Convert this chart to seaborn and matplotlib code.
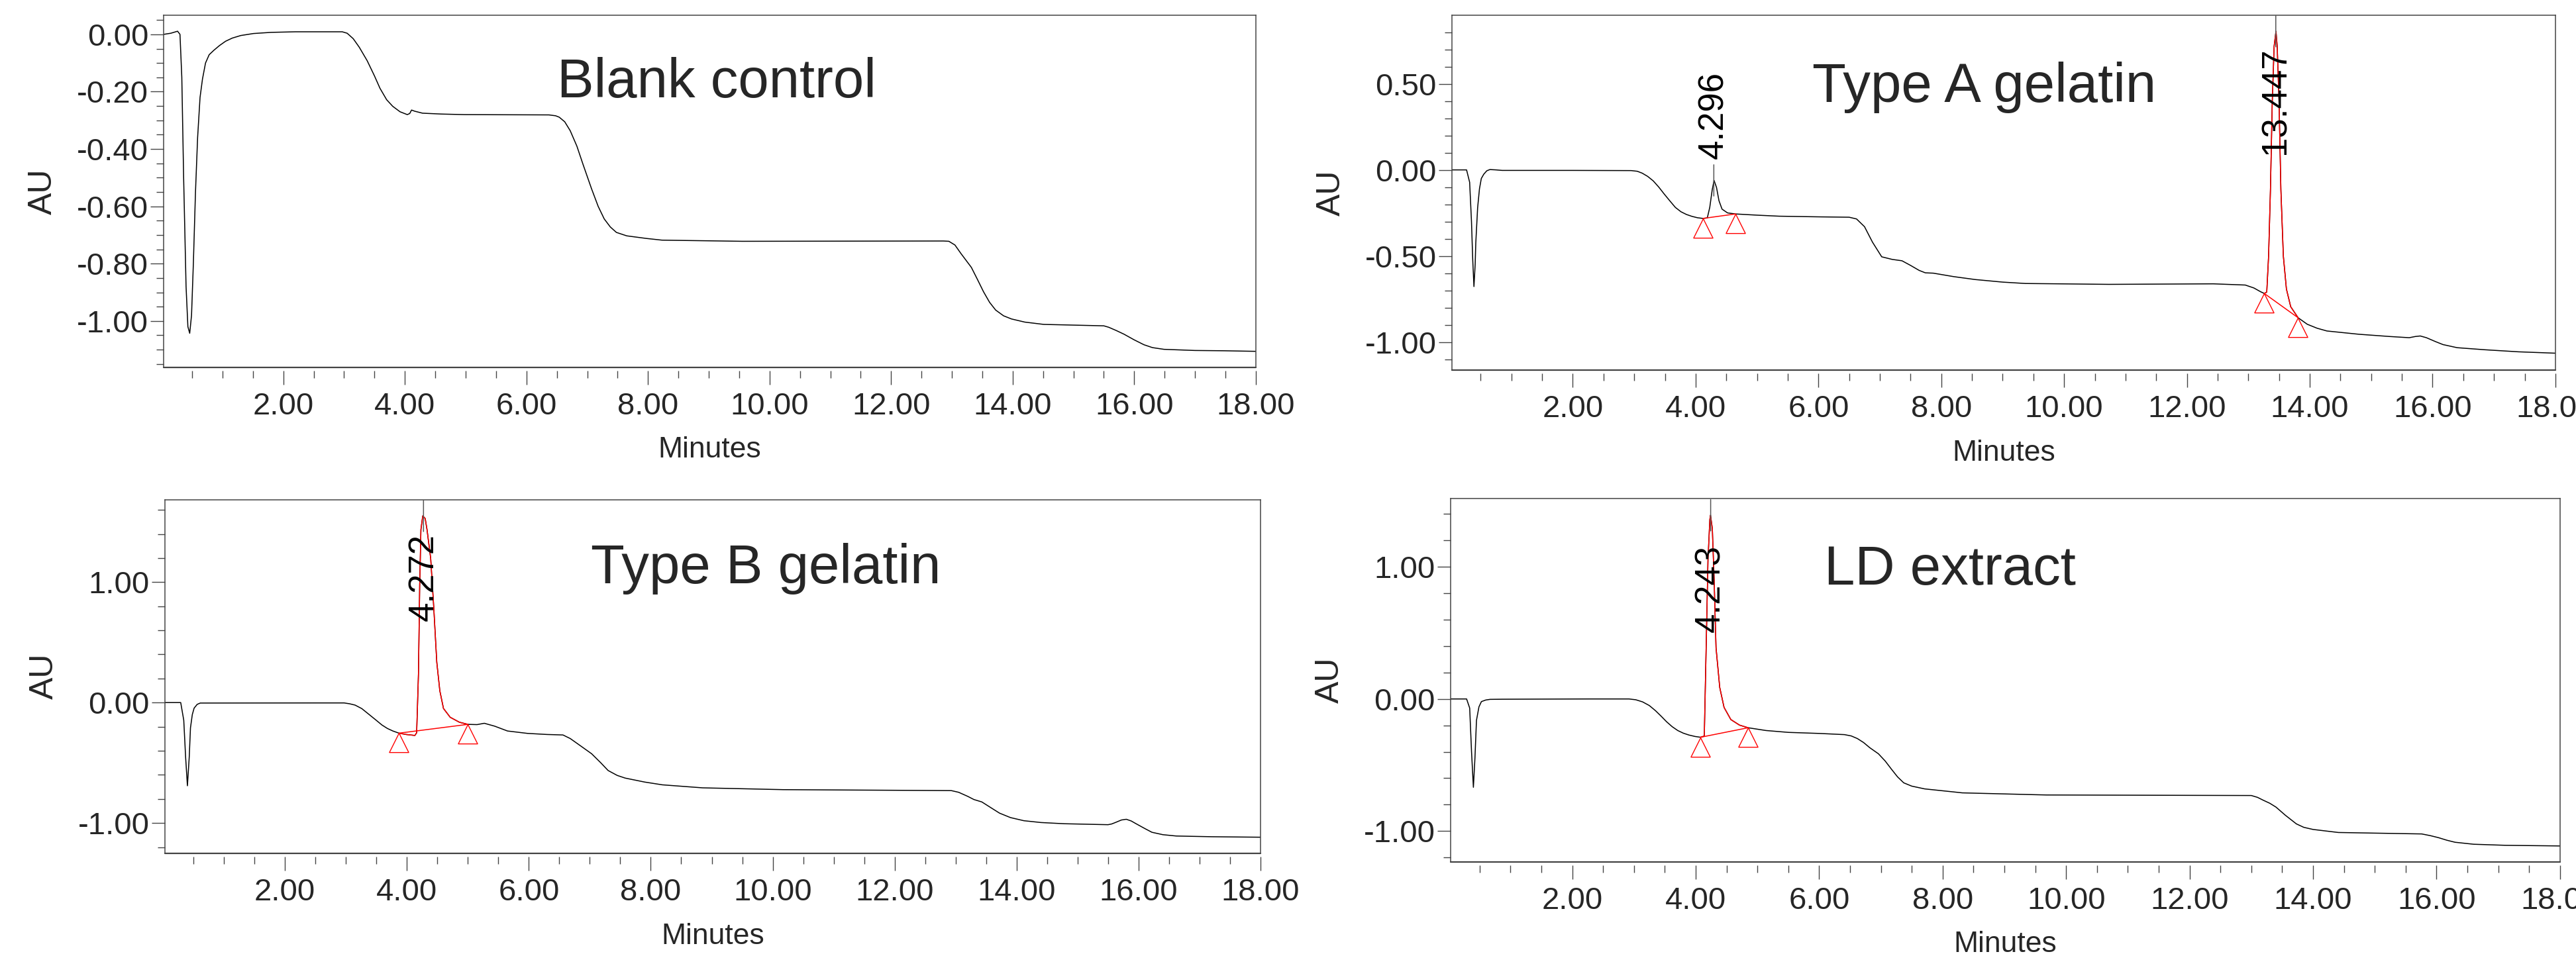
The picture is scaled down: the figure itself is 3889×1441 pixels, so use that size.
"""
HPLC chromatograms: blank control, type A / type B gelatin and LD extract.
Four panels, AU vs minutes, integrated peaks marked in red.
"""

import matplotlib
matplotlib.use("Agg")
import matplotlib.pyplot as plt
from matplotlib.ticker import MultipleLocator, FormatStrFormatter
import seaborn as sns


# ---------------------------------------------------------------------------
# Data
# ---------------------------------------------------------------------------

blank_t = [0.03, 0.15, 0.26, 0.30, 0.33, 0.36, 0.40, 0.43, 0.46, 0.49, 0.52,
           0.555, 0.59, 0.63, 0.67, 0.72, 0.78, 0.86, 0.95, 1.05, 1.16, 1.30,
           1.51, 1.80, 2.20, 2.97, 3.05, 3.15, 3.25, 3.38, 3.50, 3.59, 3.70,
           3.80, 3.92, 4.04, 4.08, 4.11, 4.16, 4.29, 4.60, 4.98, 6.37, 6.48,
           6.54, 6.63, 6.72, 6.83, 6.93, 7.07, 7.18, 7.28, 7.38, 7.48, 7.65,
           7.97, 8.23, 9.55, 12.86, 12.95, 13.05, 13.15, 13.32, 13.42, 13.52,
           13.62, 13.72, 13.85, 13.98, 14.20, 14.51, 15.50, 15.58, 15.70,
           15.83, 16.00, 16.16, 16.30, 16.49, 17.00, 17.48, 18.00]
blank_au = [0.0, 0.004, 0.011, 0.0, -0.15, -0.50, -0.88, -1.02, -1.043, -0.98,
            -0.80, -0.55, -0.36, -0.22, -0.156, -0.10, -0.071, -0.055, -0.039,
            -0.024, -0.013, -0.004, 0.003, 0.007, 0.009, 0.009, 0.004, -0.015,
            -0.045, -0.092, -0.145, -0.188, -0.228, -0.251, -0.270, -0.280,
            -0.276, -0.264, -0.268, -0.275, -0.278, -0.280, -0.281, -0.284,
            -0.289, -0.305, -0.336, -0.39, -0.453, -0.538, -0.60, -0.644,
            -0.672, -0.691, -0.703, -0.712, -0.718, -0.722, -0.721, -0.722,
            -0.735, -0.765, -0.813, -0.855, -0.898, -0.935, -0.962, -0.982,
            -0.993, -1.004, -1.012, -1.017, -1.022, -1.033, -1.046, -1.066,
            -1.083, -1.093, -1.099, -1.103, -1.104, -1.106]

typeA_t = [0.03, 0.20, 0.27, 0.32, 0.35, 0.37, 0.39, 0.41, 0.42, 0.45, 0.48,
           0.51, 0.55, 0.60, 0.65, 0.75, 0.85, 2.00, 2.95, 3.05, 3.13, 3.22,
           3.31, 3.40, 3.49, 3.58, 3.67, 3.76, 3.85, 3.94, 4.03, 4.12, 4.19,
           4.23, 4.27, 4.30, 4.34, 4.38, 4.43, 4.52, 4.65, 5.00, 5.36, 6.04,
           6.50, 6.62, 6.75, 6.88, 7.03, 7.20, 7.36, 7.50, 7.64, 7.74, 7.87,
           8.20, 8.55, 9.00, 9.37, 10.73, 12.43, 12.95, 13.09, 13.20, 13.26,
           13.30, 13.33, 13.36, 13.39, 13.42, 13.45, 13.47, 13.50, 13.53,
           13.57, 13.62, 13.69, 13.81, 13.96, 14.12, 14.28, 14.80, 15.30,
           15.62, 15.72, 15.80, 15.90, 16.05, 16.17, 16.40, 16.85, 17.40, 18.00]
typeA_au = [0.0, 0.0, 0.0, -0.072, -0.30, -0.52, -0.678, -0.55, -0.425, -0.22,
            -0.11, -0.05, -0.025, -0.005, 0.002, 0.0, -0.003, -0.003, -0.004,
            -0.008, -0.019, -0.038, -0.064, -0.10, -0.141, -0.18, -0.218,
            -0.243, -0.259, -0.270, -0.278, -0.282, -0.279, -0.218, -0.115,
            -0.061, -0.102, -0.179, -0.228, -0.25, -0.256, -0.263, -0.269,
            -0.273, -0.275, -0.285, -0.33, -0.42, -0.505, -0.52, -0.528, -0.555,
            -0.584, -0.598, -0.60, -0.62, -0.637, -0.652, -0.66, -0.665, -0.662,
            -0.669, -0.686, -0.708, -0.718, -0.71, -0.5, -0.115, 0.398, 0.718,
            0.805, 0.718, 0.398, -0.115, -0.5, -0.692, -0.795, -0.859, -0.897,
            -0.92, -0.936, -0.955, -0.968, -0.975, -0.968, -0.965, -0.975,
            -0.998, -1.015, -1.033, -1.045, -1.057, -1.065]

typeB_t = [0.02, 0.29, 0.34, 0.37, 0.40, 0.43, 0.45, 0.48, 0.51, 0.56, 0.61,
           2.54, 2.97, 3.06, 3.15, 3.26, 3.37, 3.48, 3.59, 3.68, 3.77, 3.87,
           3.99, 4.13, 4.16, 4.19, 4.21, 4.23, 4.26, 4.30, 4.33, 4.39, 4.44,
           4.49, 4.54, 4.60, 4.71, 4.86, 5.00, 5.15, 5.27, 5.44, 5.65, 5.98,
           6.30, 6.56, 6.68, 6.85, 7.03, 7.18, 7.30, 7.45, 7.58, 7.90, 8.19,
           8.85, 10.17, 12.93, 13.05, 13.20, 13.30, 13.43, 13.57, 13.72, 13.90,
           14.12, 14.40, 14.78, 15.50, 15.56, 15.63, 15.72, 15.80, 15.88, 15.96,
           16.10, 16.22, 16.40, 16.62, 17.20, 18.00]
typeB_au = [0.0, 0.0, -0.147, -0.45, -0.691, -0.45, -0.21, -0.10, -0.046,
            -0.015, -0.004, -0.003, -0.003, -0.01, -0.021, -0.05, -0.095, -0.14,
            -0.186, -0.215, -0.236, -0.254, -0.265, -0.273, -0.251, 0.244,
            0.978, 1.436, 1.55, 1.528, 1.436, 1.198, 0.794, 0.336, 0.098,
            -0.049, -0.122, -0.163, -0.181, -0.183, -0.172, -0.196, -0.236,
            -0.256, -0.265, -0.269, -0.299, -0.36, -0.425, -0.50, -0.564,
            -0.605, -0.627, -0.66, -0.683, -0.708, -0.723, -0.731, -0.745,
            -0.779, -0.805, -0.825, -0.87, -0.918, -0.955, -0.981, -0.996,
            -1.006, -1.014, -1.008, -0.994, -0.975, -0.969, -0.983, -1.006,
            -1.045, -1.077, -1.097, -1.108, -1.114, -1.118]

ld_t = [0.03, 0.29, 0.34, 0.37, 0.40, 0.425, 0.45, 0.49, 0.53, 0.60, 0.67,
        0.87, 2.28, 2.92, 3.03, 3.14, 3.25, 3.35, 3.44, 3.53, 3.62, 3.71, 3.80,
        3.89, 3.99, 4.08, 4.14, 4.17, 4.20, 4.23, 4.24, 4.27, 4.30, 4.33, 4.39,
        4.46, 4.57, 4.71, 4.85, 5.14, 5.50, 6.00, 6.41, 6.52, 6.62, 6.72, 6.82,
        6.96, 7.07, 7.17, 7.27, 7.37, 7.50, 7.71, 8.18, 8.32, 9.68, 13.00,
        13.10, 13.19, 13.30, 13.40, 13.55, 13.73, 13.85, 14.00, 14.41, 15.76,
        15.90, 16.03, 16.17, 16.30, 16.60, 17.11, 18.00]
ld_au = [0.0, 0.0, -0.069, -0.40, -0.669, -0.45, -0.162, -0.06, -0.02, -0.008,
         -0.003, -0.002, 0.0, 0.0, -0.006, -0.022, -0.05, -0.089, -0.13, -0.173,
         -0.21, -0.239, -0.259, -0.273, -0.284, -0.29, -0.281, 0.388, 1.057,
         1.358, 1.391, 1.291, 0.89, 0.388, 0.087, -0.064, -0.156, -0.198,
         -0.218, -0.239, -0.253, -0.261, -0.27, -0.28, -0.30, -0.33, -0.369,
         -0.415, -0.47, -0.531, -0.59, -0.635, -0.66, -0.681, -0.704, -0.711,
         -0.727, -0.731, -0.745, -0.766, -0.79, -0.819, -0.88, -0.946, -0.972,
         -0.988, -1.011, -1.022, -1.035, -1.05, -1.07, -1.085, -1.10, -1.108,
         -1.113]

panel_titles = ["Blank control", "Type A gelatin", "Type B gelatin", "LD extract"]

# integrated peaks: (retention time label, start (min, AU), end (min, AU), trace drawn red)
typeA_peaks = [("4.296", (4.12, -0.282), (4.65, -0.256), False),
               ("13.447", (13.26, -0.718), (13.81, -0.859), True)]
typeB_peaks = [("4.272", (3.87, -0.254), (5.00, -0.181), True)]
ld_peaks = [("4.243", (4.08, -0.290), (4.85, -0.218), True)]

y_major = [0.20, 0.50, 1.00, 1.00]
y_minor = [0.05, 0.10, 0.20, 0.20]


# ---------------------------------------------------------------------------
# Layout / style
# ---------------------------------------------------------------------------

W, H, DPI = 3889, 1441, 100
FRAME = "#444444"
RED = "#ff0000"

# axes rectangles in figure fractions (left, bottom, width, height)
RECTS = [(0.0635, 0.6149, 0.4240, 0.3692),
         (0.5636, 0.6121, 0.4284, 0.3720),
         (0.0640, 0.1055, 0.4253, 0.3709),
         (0.5631, 0.0965, 0.4307, 0.3810)]
YLIMS = [(-1.162, 0.067), (-1.163, 0.899), (-1.252, 1.686), (-1.234, 1.518)]
TITLE_POS = [(0.360, 0.767), (0.3265, 0.756), (0.389, 0.763), (0.337, 0.763)]
# bottom of the rotated retention-time label, in AU
LABEL_Y = {"4.296": 0.064, "13.447": 0.09, "4.272": 0.677, "4.243": 0.505}

# triangle with its apex at the anchor point
TRI = [(0, 0), (-0.5, -1), (0.5, -1), (0, 0)]

sns.set_style("white")
plt.rcParams["font.family"] = ["Liberation Sans", "DejaVu Sans"]
plt.rcParams["axes.unicode_minus"] = False


def draw_panel(fig, rect, t, au, peaks, title, title_pos, ylim, ymaj, ymin):
    ax = fig.add_axes(rect)
    sns.lineplot(x=t, y=au, ax=ax, color="black", linewidth=1.1,
                 estimator=None, sort=False)

    for label, (x0, y0), (x1, y1), red_trace in peaks:
        seg = [(x, y) for x, y in zip(t, au) if x0 <= x <= x1]
        if red_trace:
            sns.lineplot(x=[p[0] for p in seg], y=[p[1] for p in seg], ax=ax,
                         color=RED, linewidth=1.1, estimator=None, sort=False)
        ax.plot([x0, x1], [y0, y1], color=RED, linewidth=1.1)
        ax.plot([x0, x1], [y0, y1], linestyle="none", marker=TRI,
                markersize=42, markerfacecolor="none", markeredgecolor=RED,
                markeredgewidth=1.0, clip_on=False)

        rt = float(label)
        apex = max(p[1] for p in seg)
        for dy in (17, -17):
            ax.annotate("", xy=(rt, apex), xytext=(0, dy),
                        textcoords="offset points",
                        arrowprops=dict(arrowstyle="-", color="#555555",
                                        lw=1.1, shrinkA=0, shrinkB=0))
        ax.text(rt, LABEL_Y[label], label, rotation=90, ha="center",
                va="bottom", fontsize=38, color="black")

    ax.text(title_pos[0], title_pos[1], title, transform=ax.transAxes,
            fontsize=60, ha="left", va="baseline")

    ax.set_xlim(0.03, 18.0)
    ax.set_ylim(*ylim)
    ax.xaxis.set_major_locator(MultipleLocator(2.0))
    ax.xaxis.set_minor_locator(MultipleLocator(0.5))
    ax.yaxis.set_major_locator(MultipleLocator(ymaj))
    ax.yaxis.set_minor_locator(MultipleLocator(ymin))
    ax.xaxis.set_major_formatter(FormatStrFormatter("%.2f"))
    ax.yaxis.set_major_formatter(FormatStrFormatter("%.2f"))

    ax.tick_params(axis="both", which="both", direction="out", color=FRAME,
                   width=1.0, bottom=True, left=True, top=False, right=False)
    ax.tick_params(axis="x", which="major", length=15, pad=8, labelsize=34)
    ax.tick_params(axis="x", which="minor", length=8)
    ax.tick_params(axis="y", which="major", length=14.5, pad=2, labelsize=34)
    ax.tick_params(axis="y", which="minor", length=8)

    for side in ("top", "right", "left"):
        ax.spines[side].set_color(FRAME)
        ax.spines[side].set_linewidth(1.1)
        ax.spines[side].set_visible(True)
    # x ticks hang a little below the frame
    ax.spines["bottom"].set_position(("outward", 3.6))
    ax.spines["bottom"].set_visible(False)
    ax.plot([0, 1], [0, 0], transform=ax.transAxes, color=FRAME,
            linewidth=1.6, clip_on=False)

    ax.set_xlabel("Minutes", fontsize=32, labelpad=17)
    ax.set_ylabel("AU", fontsize=36, labelpad=20)
    return ax


fig = plt.figure(figsize=(W / DPI, H / DPI), dpi=DPI)

traces = [(blank_t, blank_au, []),
          (typeA_t, typeA_au, typeA_peaks),
          (typeB_t, typeB_au, typeB_peaks),
          (ld_t, ld_au, ld_peaks)]

for i, (t, au, peaks) in enumerate(traces):
    draw_panel(fig, RECTS[i], t, au, peaks, panel_titles[i], TITLE_POS[i],
               YLIMS[i], y_major[i], y_minor[i])

fig.savefig("out.png", dpi=DPI, facecolor="white")
plt.close(fig)
